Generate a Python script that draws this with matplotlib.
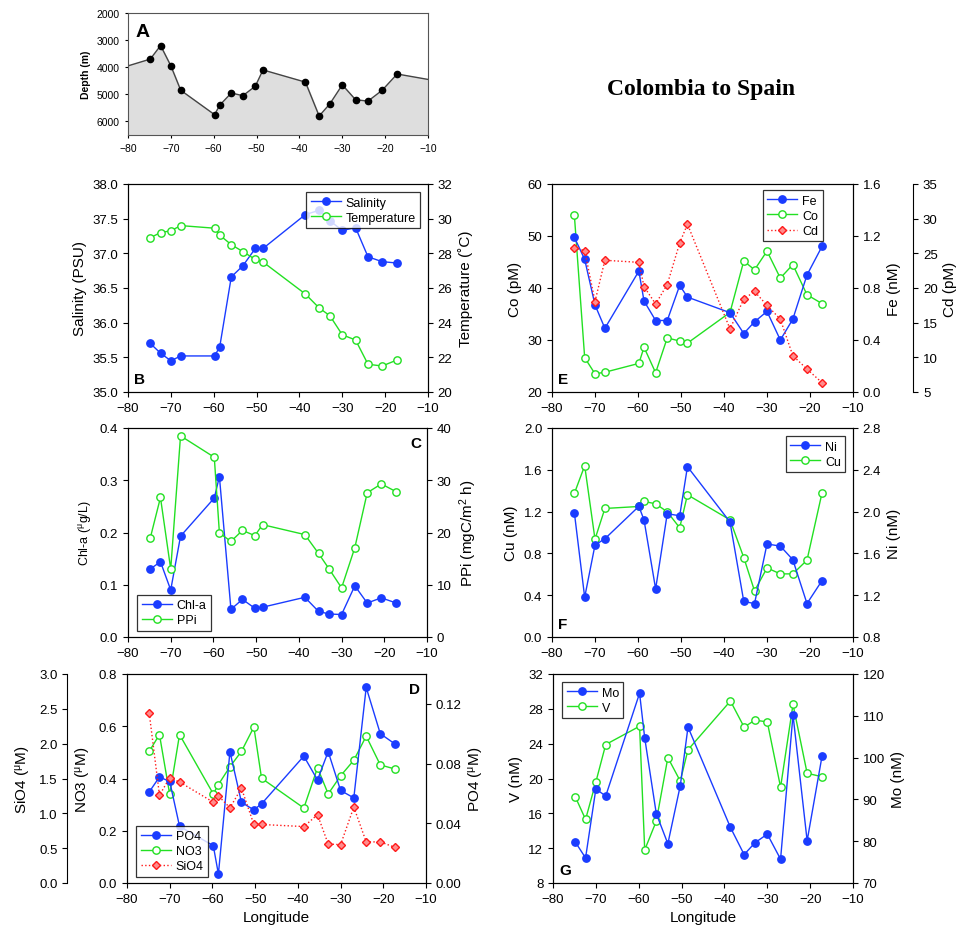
import numpy as np
import matplotlib.pyplot as plt

plt.rcParams['font.family'] = ['Liberation Sans', 'DejaVu Sans']
plt.rcParams['font.size'] = 9.5
plt.rcParams['axes.linewidth'] = 0.8
plt.rcParams['xtick.major.size'] = 3.5
plt.rcParams['ytick.major.size'] = 3.5
plt.rcParams['mathtext.default'] = 'regular'

# station longitudes
lon = [-74.8, -72.4, -70.0, -67.7, -59.8, -58.6, -55.9, -53.2, -50.3, -48.5,
       -38.6, -35.4, -32.9, -30.0, -26.9, -24.0, -20.7, -17.2]

# bathymetry (panel A), with section ends
depth_lon = [-80] + lon + [-10]
depth = [3950, 3700, 3200, 3950, 4850, 5750, 5400, 4950, 5050, 4700, 4100,
         4550, 5800, 5350, 4650, 5200, 5250, 4850, 4250, 4450]

# panel B
salinity = [35.70, 35.56, 35.45, 35.52, 35.52, 35.65, 36.66, 36.82, 37.07, 37.07,
            37.56, 37.62, 37.47, 37.33, 37.37, 36.95, 36.88, 36.86]
temperature = [28.9, 29.2, 29.3, 29.6, 29.45, 29.05, 28.5, 28.1, 27.65, 27.5,
               25.65, 24.85, 24.4, 23.3, 23.0, 21.6, 21.5, 21.85]

# panel C
chla = [0.130, 0.144, 0.090, 0.193, 0.266, 0.307, 0.053, 0.072, 0.055, 0.057,
        0.076, 0.049, 0.044, 0.043, 0.098, 0.065, 0.075, 0.065]
ppi = [18.9, 26.7, 13.0, 38.5, 34.4, 19.9, 18.3, 20.4, 19.4, 21.5,
       19.6, 16.0, 13.0, 9.4, 17.1, 27.6, 29.3, 27.8]

# panel D
po4 = [0.061, 0.071, 0.068, 0.038, 0.025, 0.006, 0.088, 0.054, 0.049, 0.053,
       0.085, 0.069, 0.088, 0.062, 0.057, 0.131, 0.100, 0.093]
no3 = [0.504, 0.568, 0.339, 0.568, 0.341, 0.377, 0.445, 0.504, 0.597, 0.401,
       0.287, 0.441, 0.341, 0.410, 0.470, 0.562, 0.452, 0.436]
sio4 = [2.44, 1.26, 1.51, 1.45, 1.16, 1.25, 1.08, 1.36, 0.84, 0.84,
        0.81, 0.98, 0.56, 0.55, 1.09, 0.59, 0.59, 0.51]

# panel E
fe = [1.19, 1.02, 0.67, 0.49, 0.93, 0.70, 0.55, 0.55, 0.82, 0.73,
      0.61, 0.45, 0.54, 0.62, 0.40, 0.56, 0.90, 1.12]
co = [54.0, 26.6, 23.5, 23.8, 25.5, 28.6, 23.7, 30.4, 29.8, 29.4,
      35.3, 45.2, 43.5, 47.1, 41.9, 44.5, 38.7, 37.0]
cd = [25.8, 25.4, 18.05, 24.0, 23.7, 20.2, 17.7, 20.5, 26.5, 29.2,
      14.1, 18.4, 19.5, 17.5, 15.5, 10.25, 8.3, 6.35]

# panel F
ni = [1.99, 1.18, 1.68, 1.74, 2.05, 1.92, 1.26, 1.98, 1.96, 2.43,
      1.90, 1.14, 1.12, 1.69, 1.67, 1.54, 1.12, 1.34]
cu = [1.374, 1.639, 0.936, 1.230, 1.249, 1.297, 1.275, 1.198, 1.045, 1.361,
      1.121, 0.760, 0.441, 0.661, 0.604, 0.604, 0.735, 1.380]

# panel G
mo = [79.8, 76.0, 92.5, 90.8, 115.4, 104.7, 86.6, 79.4, 93.3, 107.3,
      83.3, 76.8, 79.6, 81.7, 75.7, 110.2, 80.1, 100.5]
v = [17.9, 15.3, 19.6, 23.9, 26.0, 11.8, 15.1, 22.4, 19.7, 23.3,
     28.9, 25.9, 26.7, 26.5, 19.0, 28.5, 20.6, 20.2]

BLUE = '#1a3cff'
GREEN = '#22e022'
RED = '#ff1a1a'
W, H = 969, 928


def box(l, t, r, b):
    return [l / W, 1 - b / H, (r - l) / W, (b - t) / H]


def blue(ax, y):
    return ax.plot(lon, y, '-o', color=BLUE, lw=1.0, ms=5.3, mfc=BLUE, mec=BLUE)[0]


def green(ax, y):
    return ax.plot(lon, y, '-o', color=GREEN, lw=1.0, ms=5.3, mfc='white', mec=GREEN, mew=1.0)[0]


def red(ax, y):
    return ax.plot(lon, y, ':D', color=RED, lw=1.0, ms=4.3, mfc='#ff8c8c', mec=RED, mew=1.0)[0]


def base(ax, xlab=False):
    ax.set_xlim(-80, -10)
    ax.set_xticks(range(-80, 0, 10))
    if xlab:
        ax.set_xlabel('Longitude', fontsize=11)


def letter(ax, s, loc):
    if loc == 'll':
        ax.text(0.02, 0.03, s, transform=ax.transAxes, fontsize=11, fontweight='bold', va='bottom', ha='left')
    else:
        ax.text(0.98, 0.96, s, transform=ax.transAxes, fontsize=11, fontweight='bold', va='top', ha='right')


def leg(ax, handles, labels, loc, **kw):
    lg = ax.legend(handles, labels, loc=loc, fontsize=9, frameon=True, fancybox=False,
                   edgecolor='black', handlelength=2.4, handletextpad=0.4, borderpad=0.35,
                   labelspacing=0.25, **kw)
    lg.get_frame().set_linewidth(0.9)
    lg.set_zorder(10)
    return lg


fig = plt.figure(figsize=(9.69, 9.28), dpi=100)

# A: bathymetry
axA = fig.add_axes(box(128, 14, 428, 136))
axA.fill_between(depth_lon, depth, 6500, color='#dedede')
axA.plot(depth_lon, depth, color='#444444', lw=1.0)
axA.plot(lon, depth[1:-1], 'o', color='black', ms=4.5)
axA.set_xlim(-80, -10)
axA.set_ylim(6500, 2000)
axA.set_xticks(range(-80, 0, 10))
axA.set_yticks([2000, 3000, 4000, 5000, 6000])
axA.tick_params(labelsize=7.5, length=2.5)
axA.set_ylabel('Depth (m)', fontsize=7.5, fontweight='bold')
axA.text(0.025, 0.92, 'A', transform=axA.transAxes, fontsize=14, fontweight='bold', va='top')
for sp in axA.spines.values():
    sp.set_color('#555555')

fig.text(701 / W, 1 - 90 / H, 'Colombia to Spain', family='Liberation Serif',
         fontsize=17, fontweight='bold', ha='center', va='center')

# B: salinity / temperature
axB = fig.add_axes(box(128, 185, 428, 393))
hS = blue(axB, salinity)
axB.set_ylim(35.0, 38.0)
axB.set_yticks(np.arange(35.0, 38.01, 0.5))
axB.yaxis.set_major_formatter('{x:.1f}')
axB.set_ylabel('Salinity (PSU)', fontsize=11)
base(axB)
axB2 = axB.twinx()
hT = green(axB2, temperature)
axB2.set_ylim(20, 32)
axB2.set_yticks(range(20, 33, 2))
axB2.set_ylabel('Temperature (\u02daC)', fontsize=11)
letter(axB, 'B', 'll')
leg(axB2, [hS, hT], ['Salinity', 'Temperature'], 'upper right', bbox_to_anchor=(0.995, 0.99))

# C: chl-a / PPi
axC = fig.add_axes(box(128, 429, 427, 638))
hC = blue(axC, chla)
axC.set_ylim(0, 0.4)
axC.set_yticks(np.arange(0, 0.41, 0.1))
axC.yaxis.set_major_formatter('{x:.1f}')
axC.set_ylabel('Chl-a ($^{\\mu}$g/L)', fontsize=9)
base(axC)
axC2 = axC.twinx()
hP = green(axC2, ppi)
axC2.set_ylim(0, 40)
axC2.set_yticks(range(0, 41, 10))
axC2.set_ylabel('PPi (mgC/m$^{2}$ h)', fontsize=11)
letter(axC, 'C', 'ur')
leg(axC2, [hC, hP], ['Chl-a', 'PPi'], 'lower left', bbox_to_anchor=(0.01, 0.0))

# D: nutrients
axD = fig.add_axes(box(127, 675, 426, 884))
hN = green(axD, no3)
axD.set_ylim(0, 0.8)
axD.set_yticks(np.arange(0, 0.81, 0.2))
axD.yaxis.set_major_formatter('{x:.1f}')
axD.set_ylabel('NO3 ($^{\\mu}$M)', fontsize=11)
base(axD, True)
axD2 = axD.twinx()
hPO = blue(axD2, po4)
axD2.set_ylim(0, 0.14)
axD2.set_yticks([0, 0.04, 0.08, 0.12])
axD2.yaxis.set_major_formatter('{x:.2f}')
axD2.set_ylabel('PO4 ($^{\\mu}$M)', fontsize=11)
axD3 = axD.twinx()
axD3.spines['left'].set_position(('axes', -0.2))
axD3.spines['left'].set_visible(True)
for s in ['right', 'top', 'bottom']:
    axD3.spines[s].set_visible(False)
axD3.yaxis.set_ticks_position('left')
axD3.yaxis.set_label_position('left')
hSi = red(axD3, sio4)
axD3.set_ylim(0, 3.0)
axD3.set_yticks(np.arange(0, 3.01, 0.5))
axD3.yaxis.set_major_formatter('{x:.1f}')
axD3.set_ylabel('SiO4 ($^{\\mu}$M)', fontsize=11)
letter(axD, 'D', 'ur')
leg(axD3, [hPO, hN, hSi], ['PO4', 'NO3', 'SiO4'], 'lower left', bbox_to_anchor=(0.01, 0.0))

# E: Fe / Co / Cd
axE = fig.add_axes(box(552, 185, 853, 393))
hCo = green(axE, co)
axE.set_ylim(20, 60)
axE.set_yticks(range(20, 61, 10))
axE.set_ylabel('Co (pM)', fontsize=11)
base(axE)
axE2 = axE.twinx()
hFe = blue(axE2, fe)
axE2.set_ylim(0, 1.6)
axE2.set_yticks(np.arange(0, 1.61, 0.4))
axE2.yaxis.set_major_formatter('{x:.1f}')
axE2.set_ylabel('Fe (nM)', fontsize=11)
axE3 = axE.twinx()
axE3.spines['right'].set_position(('axes', 1.2))
for s in ['left', 'top', 'bottom']:
    axE3.spines[s].set_visible(False)
hCd = red(axE3, cd)
axE3.set_ylim(5, 35)
axE3.set_yticks(range(5, 36, 5))
axE3.set_ylabel('Cd (pM)', fontsize=11)
letter(axE, 'E', 'll')
leg(axE3, [hFe, hCo, hCd], ['Fe', 'Co', 'Cd'], 'upper left', bbox_to_anchor=(0.68, 1.0))

# F: Ni / Cu
axF = fig.add_axes(box(552, 429, 853, 638))
hCu = green(axF, cu)
axF.set_ylim(0, 2.0)
axF.set_yticks(np.arange(0, 2.01, 0.4))
axF.yaxis.set_major_formatter('{x:.1f}')
axF.set_ylabel('Cu (nM)', fontsize=11)
base(axF)
axF2 = axF.twinx()
hNi = blue(axF2, ni)
axF2.set_ylim(0.8, 2.8)
axF2.set_yticks(np.arange(0.8, 2.81, 0.4))
axF2.yaxis.set_major_formatter('{x:.1f}')
axF2.set_ylabel('Ni (nM)', fontsize=11)
letter(axF, 'F', 'll')
leg(axF2, [hNi, hCu], ['Ni', 'Cu'], 'upper right', bbox_to_anchor=(0.995, 0.99))

# G: Mo / V
axG = fig.add_axes(box(553, 675, 853, 884))
hV = green(axG, v)
axG.set_ylim(8, 32)
axG.set_yticks(range(8, 33, 4))
axG.set_ylabel('V (nM)', fontsize=11)
base(axG, True)
axG2 = axG.twinx()
hMo = blue(axG2, mo)
axG2.set_ylim(70, 120)
axG2.set_yticks(range(70, 121, 10))
axG2.set_ylabel('Mo (nM)', fontsize=11)
letter(axG, 'G', 'll')
leg(axG2, [hMo, hV], ['Mo', 'V'], 'upper left', bbox_to_anchor=(0.01, 0.99))

fig.savefig('out.png', dpi=100)
